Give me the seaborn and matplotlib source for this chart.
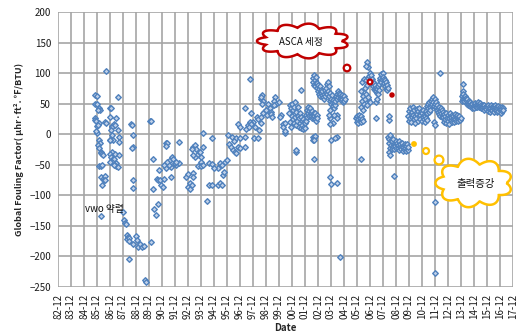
import numpy as np
import pandas as pd
import matplotlib
matplotlib.use("Agg")
import matplotlib.pyplot as plt
import seaborn as sns
from matplotlib.patches import Circle

# ---------------------------------------------------------------------------
# Data: global fouling factor of the condenser, by date (decimal year)
# ---------------------------------------------------------------------------
x_tick_labels = [f"{y % 100:02d}-12" for y in range(1982, 2018)]
y_ticks = [-250, -200, -150, -100, -50, 0, 50, 100, 150, 200]

# sparse early / isolated measurements (year, value)
scatter_points = [
    (1985.75, 64), (1985.9, 62), (1985.8, 50), (1985.9, 49), (1986.1, 43), (1986.15, 40),
    (1986.0, 39), (1985.8, 26), (1985.75, 23), (1985.85, 21), (1986.05, 18), (1985.9, 13),
    (1986.0, 15), (1986.5, 20), (1986.6, 18), (1986.6, 104), (1986.9, 42), (1987.0, 42),
    (1986.9, 28), (1987.05, 14), (1987.1, 12), (1987.2, 16), (1987.0, 7), (1987.55, 60),
    (1987.4, 26), (1987.3, 15), (1987.5, 7), (1987.6, -5), (1987.6, -13), (1987.05, -1),
    (1987.15, -9), (1986.95, -9), (1986.9, -10), (1985.95, 1), (1985.85, 5), (1986.1, -10),
    (1986.15, -15), (1986.0, -18), (1986.1, -22), (1986.2, -29), (1986.2, -31), (1986.3, -32),
    (1986.4, -35), (1986.1, -53), (1986.2, -53), (1987.1, -29), (1986.9, -32), (1987.3, -32),
    (1987.0, -37), (1987.15, -40), (1987.25, -40), (1987.4, -48), (1987.35, -52), (1987.1, -45),
    (1986.9, -45), (1987.6, -34), (1987.25, -51),
    (1988.5, 16), (1988.6, 15), (1988.65, -2), (1988.65, -21), (1988.6, -22), (1990.0, 22),
    (1990.07, 22), (1990.25, -40),
    (1986.3, -51), (1986.2, -70), (1986.35, -73), (1986.45, -75), (1986.5, -68), (1986.55, -76),
    (1986.3, -83), (1986.2, -135), (1987.5, -54), (1988.7, -75), (1988.65, -88), (1987.9, -127),
    (1988.0, -141), (1988.05, -145), (1988.15, -148), (1988.2, -165), (1988.3, -168),
    (1988.2, -172), (1988.4, -170), (1988.35, -175), (1988.9, -167), (1989.0, -174),
    (1989.1, -185), (1989.25, -180), (1989.4, -185), (1989.5, -183), (1988.7, -180),
    (1988.4, -205), (1989.6, -239), (1989.7, -243), (1990.1, -176), (1990.3, -122),
    (1990.45, -132), (1990.6, -115), (1990.2, -90), (1990.5, -73), (1990.6, -75), (1990.75, -75),
    (1990.85, -84), (1991.0, -86), (1990.7, -59), (1991.1, -73), (1991.2, -56), (1991.6, -70),
    (1991.55, -53), (1991.6, -54), (1992.0, -51), (1992.2, -48),
    (1991.2, -15), (1991.3, -14), (1991.25, -20), (1991.45, -51), (1991.55, -43), (1991.65, -37),
    (1991.8, -40), (1992.2, -13), (1991.95, -48), (1992.0, -45), (1991.3, -45), (1991.1, -50),
    (1992.8, -70), (1992.9, -65), (1992.95, -86), (1993.05, -90), (1993.1, -80), (1993.2, -84),
    (1993.3, -64), (1993.3, -70),
    (1993.3, -21), (1993.45, -18), (1993.55, -24), (1993.2, -25), (1993.6, -34), (1993.45, -37),
    (1993.3, -34), (1993.85, -30), (1993.95, -37), (1994.05, -21), (1994.1, 1), (1993.95, -45),
    (1993.7, -52), (1993.9, -53), (1994.1, -50), (1994.5, -48), (1994.8, -7), (1994.8, -49),
    (1995.3, -54), (1995.4, -48), (1995.5, -50), (1995.8, -45), (1995.9, -43), (1994.4, -110),
    (1994.55, -84), (1994.8, -84), (1995.2, -84), (1995.35, -80), (1995.5, -84), (1995.6, -67),
    (1995.65, -62), (1995.2, -55), (1994.9, -55),
    (1996.0, -2), (1996.1, -16), (1996.2, -21), (1996.35, -26), (1996.5, -29), (1996.6, -31),
    (1996.75, -21), (1996.75, 17), (1996.9, 11), (1997.3, 42), (1997.3, -21), (1997.65, 91),
    (1997.8, 34), (1997.95, 20), (1998.05, 11), (1996.3, -4), (1996.6, -7), (1996.9, -7),
    (1996.45, -12), (1996.9, -23), (1998.0, -7), (1997.3, -4),
    (1998.6, 64), (1998.55, 57), (1998.7, 55), (1998.6, 50), (1999.6, 61), (1999.5, 55),
    (1999.7, 50), (1999.1, 50), (1998.95, 39), (1999.2, 42), (1998.8, 36), (1998.7, 34),
    (1998.2, 28), (1998.3, 24), (1997.65, 20), (1997.5, 15), (1997.8, 17), (1997.4, 9),
    (1997.6, 12), (1998.4, 7), (1998.3, -7), (1998.5, 61), (1999.5, 47), (1999.9, 53),
    (1998.9, 40), (1999.3, 37), (1999.0, 31), (1999.3, 33), (1998.5, 28), (1998.5, 18),
    (2000.1, 31), (2000.2, 17), (2000.25, 12), (2000.4, 1), (2000.35, 5), (1999.4, 28),
    (2000.0, 28), (2000.4, 18), (2001.2, -29), (2001.6, 72),
    (2002.55, -4), (2002.6, -7), (2002.65, -3), (2002.5, -10), (2002.62, -9), (2003.85, 39),
    (2003.85, 26), (2004.1, 18), (2004.4, 31), (2004.35, 26), (2003.9, -10), (2004.4, -4),
    (2004.2, -7), (2003.85, -70), (2003.9, -81), (2004.4, -80), (2004.6, -201), (2003.75, 31),
    (2003.85, 17), (2004.15, 31),
    (2006.7, 118), (2006.75, 110), (2006.6, 112), (2006.8, 58), (2006.9, 53), (2007.4, 53),
    (2007.45, 58), (2007.4, 26), (2008.4, 23), (2008.4, 30), (2006.2, -40), (2008.4, -30),
    (2008.45, -34), (2008.8, -68), (2002.6, -41), (2001.2, -26),
    (2011.85, 20), (2011.95, 15), (2012.3, 100), (2014.1, 82), (2014.05, 71),
    (2011.95, -111), (2011.95, -228),
]

# frequent monitoring campaigns: (first sample date, readings taken every 0.04 yr)
SAMPLE_STEP = 0.04
run_2001 = (2000.70, [35, 48, 20, 42, 12, 30, 50, 25,
                      40, 18, 45, 28, 52, 15, 36, 22, 44,
                      30, 12, 26, 35, 18, 28, 10, 22,
                      15, 8, 24, 12, 20, 10, 18,
                      22, 32, 28, 40, 35, 45, 30, 38,
                      42, 30, 36, 26, 38, 32, 28, 34,
                      30, 24, 34, 28, 22, 32, 26])
run_2003 = (2002.50, [92, 85, 96, 80, 88, 78, 94, 83,
                      76, 84, 70, 80, 66, 74, 62, 78, 68, 72,
                      64, 70, 60, 66, 58, 72, 62, 68,
                      75, 82, 66, 85, 70, 78,
                      62, 55, 68, 50, 58, 64, 52,
                      46, 56, 42, 52, 48,
                      55, 62, 58, 66, 60, 70, 64, 68, 58, 66,
                      62, 56, 64, 58, 52, 60, 55, 62, 57])
run_2006a = (2005.86, [26, 20, 30, 24, 18, 28, 32, 22, 27, 19, 29, 24, 21])
run_2006b = (2006.20, [45, 70, 55, 85, 40, 62, 90, 50, 75, 58, 88, 66, 48, 80, 60, 92,
                       95, 88, 100, 92, 97,
                       90, 82, 86, 78, 84, 74, 80, 72, 76, 70,
                       68, 74, 66, 78, 72,
                       82, 88, 92, 86, 98, 90, 100, 94,
                       90, 84, 88, 78, 85, 74, 80, 72, 76])
run_2009 = (2008.30, [-4, -15, -8, -22, -2, -18, -10, -24,
                      -12, -20, -8, -16, -24, -14, -19, -11, -22, -17,
                      -15, -23, -18, -12, -26, -20, -16, -24, -19, -14, -27, -21,
                      -18, -25, -22, -16, -28, -20, -24, -17, -26, -21])
run_2010 = (2009.84, [30, 22, 38, 26, 42, 34, 20, 36, 28, 44, 32, 24, 40, 30, 18, 35, 27,
                      41, 33, 22, 38, 29, 43, 31, 25, 37, 21, 34, 28, 40, 24, 32, 19, 30,
                      26, 35, 23])
run_2011 = (2011.24, [38, 46, 34, 50, 42, 36, 52, 44, 40, 55, 48, 58, 50, 61, 53, 46, 57,
                      49, 44, 52, 40, 47, 36, 43, 33, 45, 38, 30, 42, 35, 28, 40, 32, 37, 30])
run_2013 = (2012.56, [28, 20, 33, 24, 30, 18, 35, 26, 22, 31, 27, 17, 29, 34, 23, 28, 20,
                      32, 25, 30, 19, 27, 33, 24, 21, 29, 26, 31, 22, 28, 25, 30, 23, 27])
run_2015 = (2013.96, [62, 55, 66, 58, 60, 54, 63, 57, 59,
                      56, 50, 58, 52, 48, 55, 50, 46, 53, 49,
                      47, 43, 50, 45, 48, 42, 46, 51, 44, 48,
                      50, 45, 52, 47, 49, 44, 51, 46, 48, 43,
                      46, 42, 48, 44, 40, 47, 43, 45, 41, 46,
                      44, 38, 47, 41, 45, 36, 43, 48, 40, 44, 39, 46, 42, 37, 45,
                      41, 47, 39, 44, 36, 42, 46, 38, 43, 40, 45, 35, 41, 44, 38, 42, 39])
runs = [run_2001, run_2003, run_2006a, run_2006b, run_2009,
        run_2010, run_2011, run_2013, run_2015]

# ---------------------------------------------------------------------------
years, values = [p[0] for p in scatter_points], [p[1] for p in scatter_points]
for start, vals in runs:
    years += [start + SAMPLE_STEP * i for i in range(len(vals))]
    values += vals
df = pd.DataFrame({"year": years, "value": values})

sns.set_style("white")
plt.rcParams["font.family"] = ["Noto Sans CJK KR", "DejaVu Sans"]

W, H = 520, 335
fig = plt.figure(figsize=(W / 100, H / 100), dpi=100)
ax = fig.add_axes([58 / W, 1 - 286.7 / H, 455 / W, 274.7 / H])

BLUE = "#4F81BD"
sns.scatterplot(data=df, x="year", y="value", ax=ax, marker="D", s=8,
                color="#BFD0E8", edgecolor=BLUE, linewidth=1.0, legend=False, zorder=3)

x0 = 1982 + 11 / 12
ax.set_xlim(x0, x0 + 35)
ax.set_ylim(-250, 200)
ax.set_xticks([x0 + i for i in range(len(x_tick_labels))])
ax.set_xticklabels(x_tick_labels, rotation=90)
ax.set_yticks(y_ticks)
ax.grid(True, color="#A5A5A5", linewidth=1.2)
ax.set_axisbelow(True)
for s in ax.spines.values():
    s.set_visible(False)
ax.tick_params(axis="both", length=3, width=1.2, color="#A5A5A5",
               labelsize=7, labelcolor="#1a1a1a", pad=2)

ax.set_xlabel("Date", fontsize=7, fontweight="bold", labelpad=3)
ax.set_ylabel("Global Fouling Factor( μhr·ft². ℉/BTU)", fontsize=6.5,
              fontweight="bold", labelpad=4)

# ---------------------------------------------------------------------------
# Callout clouds drawn in pixel space on a transparent overlay
# ---------------------------------------------------------------------------
ov = fig.add_axes([0, 0, 1, 1], zorder=5)
ov.set_xlim(0, W)
ov.set_ylim(H, 0)
ov.axis("off")


def cloud(cx, cy, w, h, n_bumps, color):
    t = np.linspace(0, 2 * np.pi, 800)
    bump = np.abs(np.sin(n_bumps * t / 2))
    xs = cx + w / 2 * (0.84 + 0.16 * bump) * np.cos(t)
    ys = cy + h / 2 * (0.76 + 0.24 * bump) * np.sin(t)
    ov.fill(xs, ys, facecolor="white", edgecolor=color, linewidth=1.8)


RED, GOLD = "#C00000", "#FFC000"
cloud(303, 41, 92, 35, 11, RED)
ov.text(301, 42, "ASCA 세정", fontsize=7, ha="center", va="center", color="#111111")
for (cx, cy, r, filled) in [(347, 68, 3.3, False), (370, 82, 2.4, False), (392, 95, 1.6, True)]:
    ov.add_patch(Circle((cx, cy), r, facecolor=RED if filled else "white",
                        edgecolor=RED, linewidth=1.6))

cloud(474, 183, 77, 49, 9, GOLD)
ov.text(476, 184, "출력증강", fontsize=7.5, ha="center", va="center", color="#111111")
for (cx, cy, r, filled) in [(414, 144, 1.8, True), (426, 151, 3.0, False), (439, 160, 4.4, False)]:
    ov.add_patch(Circle((cx, cy), r, facecolor=GOLD if filled else "white",
                        edgecolor=GOLD, linewidth=1.6))

ov.text(104, 209, "vwo 약렬", fontsize=7, ha="center", va="center", color="#111111")

fig.savefig("out.png", dpi=100, facecolor="white")
